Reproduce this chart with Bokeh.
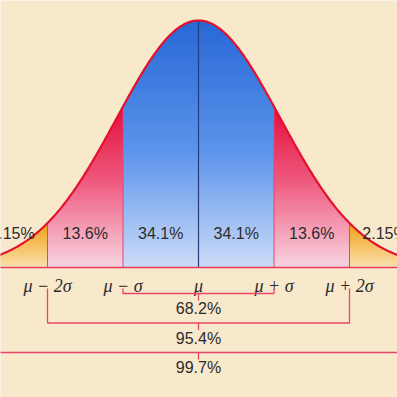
import numpy as np
from bokeh.plotting import figure
from bokeh.models import Range1d
from bokeh.embed import file_html
from bokeh.resources import INLINE
from bokeh.core.properties import value

# ---- data (x in units of sigma from the mean) ----
region_edges = [-2.7, -2.0, -1.0, 1.0, 2.0, 2.7]
region_kind = ["tail", "mid", "core", "mid", "tail"]
pct_labels = ["2.15%", "13.6%", "34.1%", "34.1%", "13.6%", "2.15%"]
pct_x = [-2.47, -1.5, -0.5, 0.5, 1.5, 2.47]
axis_labels = ["μ − 2σ", "μ − σ", "μ", "μ + σ", "μ + 2σ"]
axis_x = [-2, -1, 0, 1, 2]
bracket_labels = ["68.2%", "95.4%", "99.7%"]
bracket_k = [1, 2, 3]

PEAK = 247.0      # curve height (plot units)
SHAPE = 1.08      # curve width factor


def curve(x):
    return PEAK * np.exp(-(np.asarray(x) / SHAPE) ** 2 / 2.0)


gradients = {
    "core": [(0.0, (205, 220, 248)), (117.0, (92, 148, 235)), (247.0, (40, 104, 214))],
    "mid": [(0.0, (248, 214, 226)), (90.0, (238, 86, 124)), (165.0, (226, 12, 56))],
    "tail": [(0.0, (250, 226, 178)), (44.0, (240, 162, 24))],
}


def color_at(y, stops):
    if y <= stops[0][0]:
        c = stops[0][1]
    elif y >= stops[-1][0]:
        c = stops[-1][1]
    else:
        for (ya, ca), (yb, cb) in zip(stops[:-1], stops[1:]):
            if ya <= y <= yb:
                t = (y - ya) / (yb - ya)
                c = tuple(ca[i] + t * (cb[i] - ca[i]) for i in range(3))
                break
    return "#%02x%02x%02x" % tuple(int(round(v)) for v in c)


BG = "#f8e8cc"
p = figure(width=397, height=397,
           x_range=Range1d(-198 / 75.5, 199 / 75.5),
           y_range=Range1d(-130, 267),
           output_backend="svg", toolbar_location=None, min_border=0,
           x_axis_location=None, y_axis_location=None)
p.grid.visible = False
p.outline_line_color = None
p.background_fill_color = BG
p.border_fill_color = BG

# gradient-filled regions as thin horizontal bands
step = 2.5
for a, b, kind in zip(region_edges[:-1], region_edges[1:], region_kind):
    xs = np.linspace(a, b, 240)
    fx = curve(xs)
    top = fx.max()
    y0 = 0.0
    while y0 < top:
        y1 = y0 + step
        lo = y0 - 1.0 if y0 > 0 else 0.0
        p.varea(x=xs, y1=np.full_like(xs, lo), y2=np.clip(fx, lo, y1),
                fill_color=color_at(y0 + step / 2, gradients[kind]))
        y0 = y1

# separators
for k in [-2, -1, 1, 2]:
    p.segment(x0=[k], y0=[0], x1=[k], y1=[float(curve(k))],
              line_color="#e0457a", line_width=1)
p.segment(x0=[0], y0=[0], x1=[0], y1=[PEAK], line_color="#2a3a7c", line_width=1.2)

# curve and baseline
xc = np.linspace(-2.7, 2.7, 500)
p.line(xc, curve(xc), line_color="#e5102c", line_width=2.2)
p.line([-2.7, 2.7], [0, 0], line_color="#e83a5e", line_width=1.6)

# percentages in regions
p.text(x=pct_x, y=[34] * len(pct_x), text=pct_labels,
       text_font=value("Liberation Sans"), text_font_size="16px",
       text_align="center", text_baseline="middle", text_color="#2b2b2b")

# axis labels
p.text(x=axis_x, y=[-18] * len(axis_x), text=axis_labels,
       text_font=value("Liberation Serif"), text_font_style="italic",
       text_font_size="18px", text_align="center", text_baseline="middle",
       text_color="#2b2b2b")

# brackets
BR = "#e8456a"
for i, (k, lab) in enumerate(zip(bracket_k, bracket_labels)):
    yh = -26 - 29.5 * i
    p.line([-k, -k, k, k], [-21, yh, yh, -21], line_color=BR, line_width=1.3)
    p.segment(x0=[0], y0=[yh], x1=[0], y1=[yh - 7], line_color=BR, line_width=1.3)
    p.text(x=[0], y=[yh - 15], text=[lab],
           text_font=value("Liberation Sans"), text_font_size="16px",
           text_align="center", text_baseline="middle", text_color="#2b2b2b")

open("out.html", "w").write(file_html(p, INLINE))
